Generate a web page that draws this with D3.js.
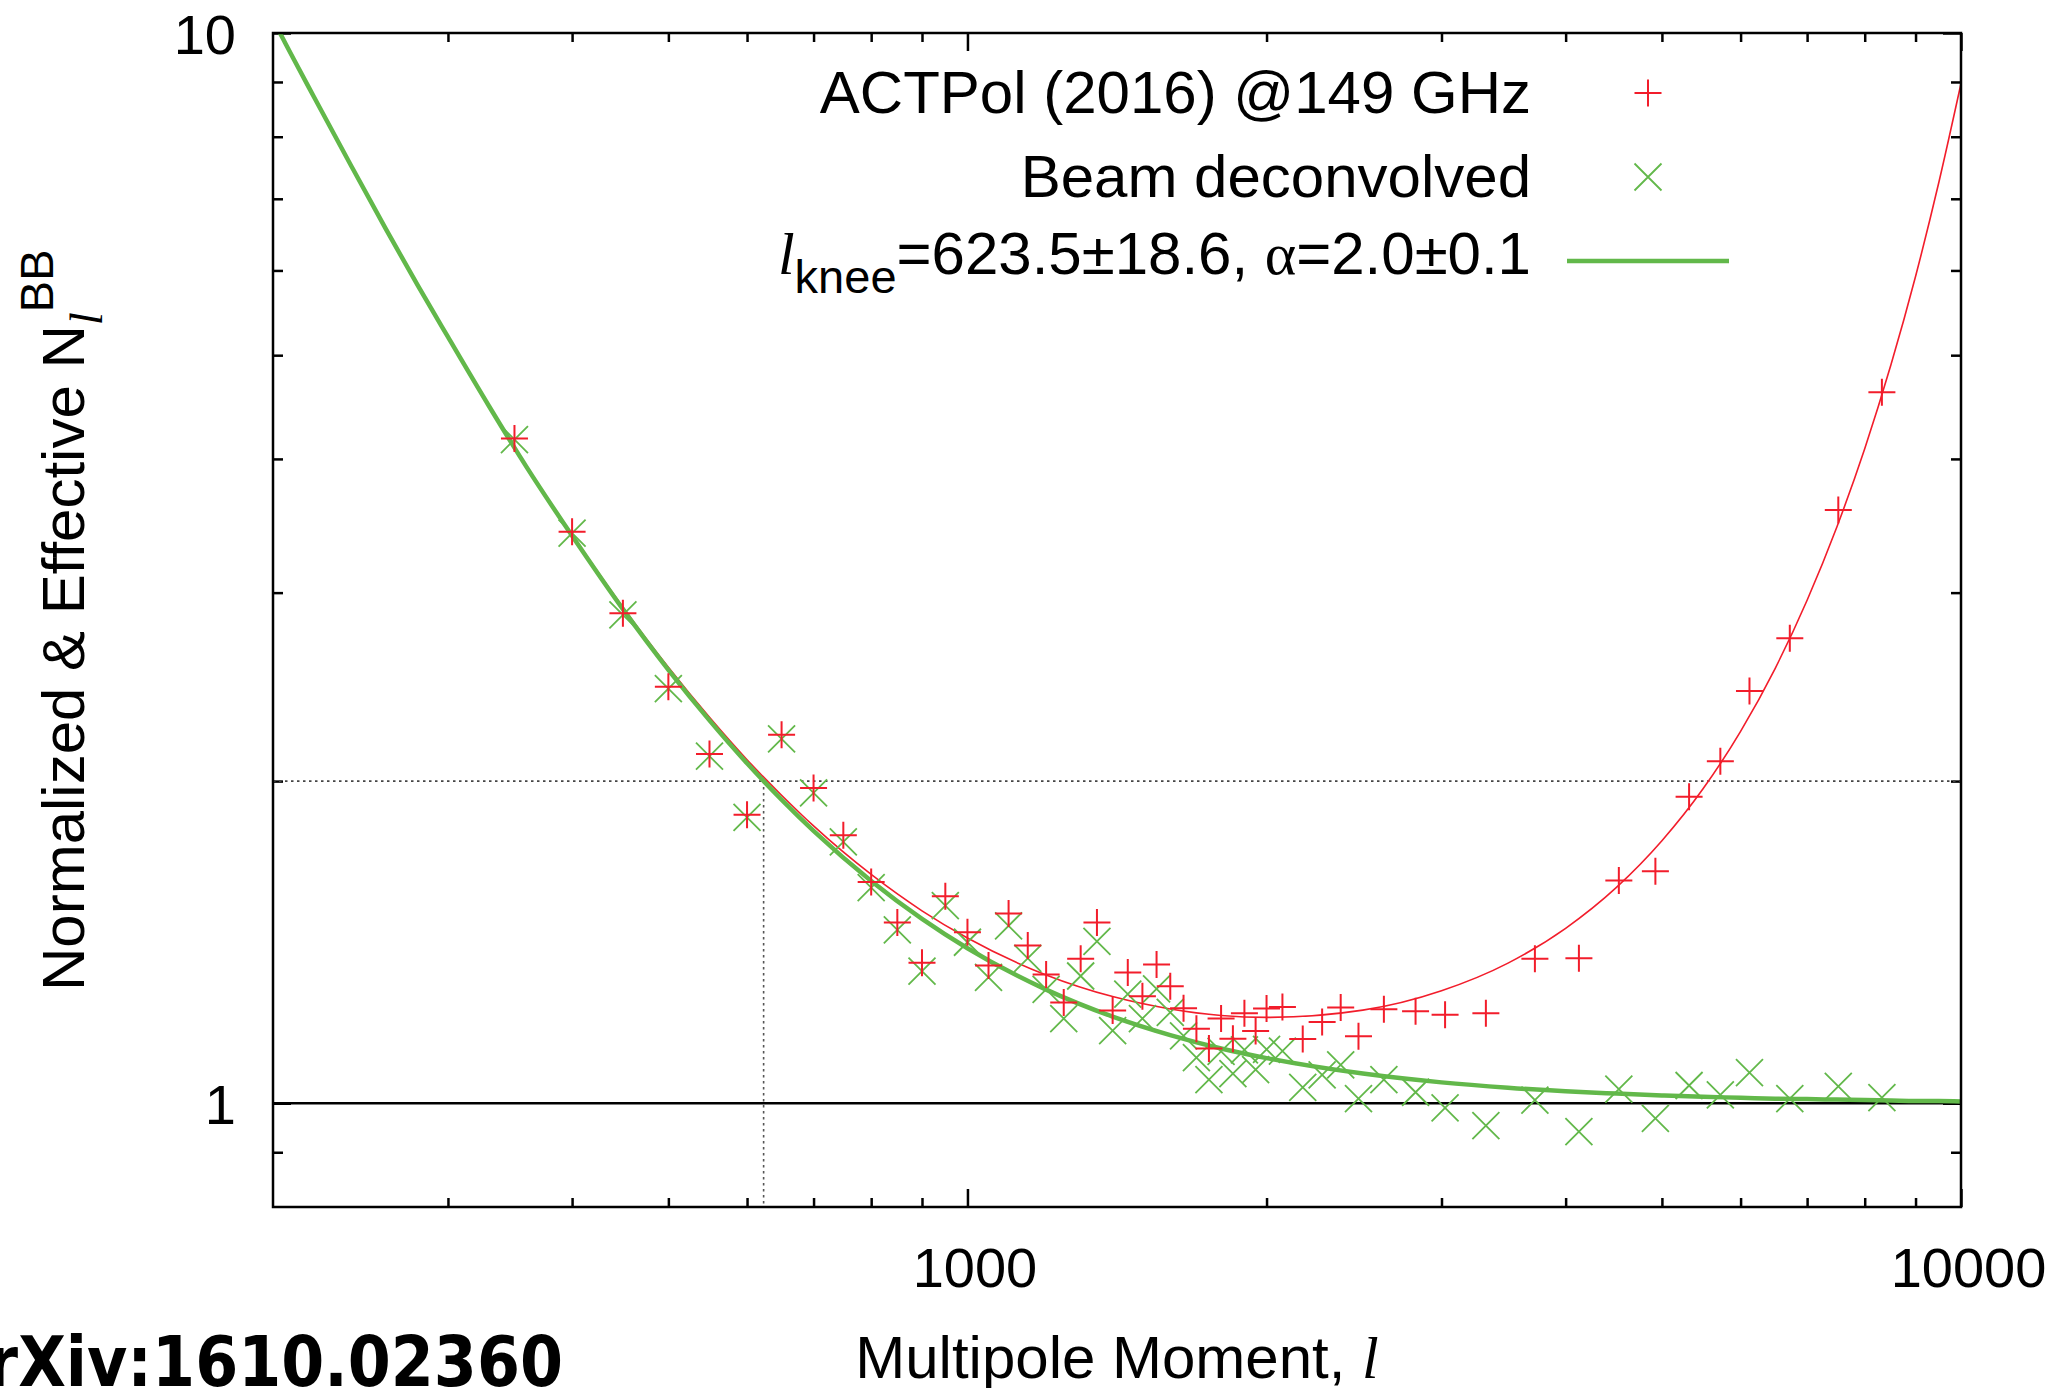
<!DOCTYPE html>
<html>
<head>
<meta charset="utf-8">
<script src="https://cdn.jsdelivr.net/npm/d3@7"></script>
<style>
  body { margin: 0; background: #fff; }
</style>
</head>
<body>
<svg id="chart"></svg>
<script>
// binned multipoles and noise levels
const multipole = [
  350, 400, 450, 500, 550, 600, 650, 700, 750, 800, 850, 900, 950, 1000,
  1050, 1100, 1150, 1200, 1250, 1300, 1350, 1400, 1450, 1500, 1550, 1600,
  1650, 1700, 1750, 1800, 1850, 1900, 1950, 2000, 2075, 2175, 2275, 2375,
  2475, 2625, 2825, 3025, 3325, 3725, 4125, 4525, 4925, 5325, 5725, 6125,
  6725, 7525, 8325
];

const actpolNoise = [
  4.18, 3.42, 2.87, 2.45, 2.12, 1.86, 2.21, 1.97, 1.78, 1.61, 1.475, 1.353,
  1.561, 1.445, 1.345, 1.504, 1.404, 1.319, 1.242, 1.365, 1.475, 1.221,
  1.325, 1.259, 1.348, 1.286, 1.227, 1.174, 1.125, 1.2, 1.149, 1.214, 1.168,
  1.226, 1.23, 1.148, 1.191, 1.229, 1.155, 1.224, 1.219, 1.21, 1.214, 1.365,
  1.366, 1.615, 1.647, 1.934, 2.087, 2.428, 2.719, 3.583, 4.618
];

const deconvolvedNoise = [
  4.17, 3.41, 2.86, 2.44, 2.11, 1.85, 2.19, 1.95, 1.755, 1.59, 1.452, 1.329,
  1.53, 1.414, 1.311, 1.465, 1.366, 1.278, 1.2, 1.315, 1.417, 1.169, 1.265,
  1.2, 1.279, 1.216, 1.156, 1.103, 1.052, 1.118, 1.066, 1.122, 1.075, 1.123,
  1.119, 1.035, 1.063, 1.086, 1.01, 1.052, 1.024, 0.99, 0.953, 1.007, 0.941,
  1.031, 0.968, 1.039, 1.018, 1.068, 1.01, 1.037, 1.012
];

// fitted curves, sampled off the figure
const fitMultipole = [
  200, 205, 210, 220, 240, 260, 280, 300, 330, 360, 400, 450, 500, 550, 600,
  650, 700, 800, 900, 1000, 1200, 1400, 1600, 1800, 2000, 2500, 3000, 3500,
  4000, 4500, 5000, 5500, 6000, 6500, 7000, 7500, 8000, 8500, 9000, 9500, 10000
];

const fitNormalized = [
  10.3, 9.86, 9.45, 8.72, 7.51, 6.56, 5.81, 5.21, 4.49, 3.94, 3.4, 2.908,
  2.555, 2.294, 2.094, 1.94, 1.816, 1.636, 1.513, 1.427, 1.318, 1.258, 1.225,
  1.208, 1.203, 1.222, 1.274, 1.352, 1.457, 1.591, 1.759, 1.967, 2.226, 2.548,
  2.951, 3.455, 4.089, 4.895, 5.923, 7.253, 8.97
];

const fitEffective = [
  10.29, 9.85, 9.44, 8.71, 7.5, 6.55, 5.8, 5.2, 4.48, 3.93, 3.39, 2.895,
  2.541, 2.279, 2.078, 1.922, 1.797, 1.6135, 1.487, 1.396, 1.277, 1.205,
  1.158, 1.125, 1.102, 1.066, 1.046, 1.034, 1.026, 1.021, 1.017, 1.014,
  1.012, 1.01, 1.009, 1.008, 1.007, 1.006, 1.005, 1.005, 1.004
];

const kneeMultipole = 623.5;
const kneeLevel = 2;
const unitLevel = 1;

const xMajorTicks = [1000, 10000];
const xMinorTicks = [300, 400, 500, 600, 700, 800, 900, 2000, 3000, 4000, 5000, 6000, 7000, 8000, 9000];
const yMajorTicks = [1, 10];
const yMinorTicks = [0.9, 2, 3, 4, 5, 6, 7, 8, 9];

const legendLabels = ["ACTPol (2016) @149 GHz", "Beam deconvolved"];

const red = "#f21d2b";
const green = "#62b84a";
const sans = '"Liberation Sans", Arial, Helvetica, sans-serif';
const serif = '"Liberation Serif", "Times New Roman", serif';

const width = 2056;
const height = 1388;
const margin = { top: 33, right: 95, bottom: 181, left: 273 };
const plotW = width - margin.left - margin.right;
const plotH = height - margin.top - margin.bottom;

const svg = d3
  .select("#chart")
  .attr("width", width)
  .attr("height", height)
  .attr("font-family", sans);

svg.append("rect").attr("width", width).attr("height", height).attr("fill", "#fff");

const g = svg.append("g").attr("transform", `translate(${margin.left},${margin.top})`);

const x = d3.scaleLog().domain([200, 10000]).range([0, plotW]);
const y = d3.scaleLog().domain([0.8, 10]).range([plotH, 0]);

g.append("clipPath")
  .attr("id", "plot-clip")
  .append("rect")
  .attr("width", plotW)
  .attr("height", plotH);

// ticks on all four sides, pointing inward
function addTicks(axis, transform) {
  const a = g.append("g").attr("transform", transform).call(axis);
  a.select(".domain").remove();
  a.selectAll("line").attr("stroke", "#000").attr("stroke-width", 2.5);
  a.attr("font-size", 56).attr("font-family", sans);
  a.selectAll("text").attr("fill", "#000");
  return a;
}

addTicks(d3.axisBottom(x).tickValues(xMinorTicks).tickSize(-9).tickFormat(""), `translate(0,${plotH})`);
addTicks(d3.axisTop(x).tickValues(xMinorTicks).tickSize(-9).tickFormat(""), "translate(0,0)");
addTicks(d3.axisTop(x).tickValues(xMajorTicks).tickSize(-18).tickFormat(""), "translate(0,0)");
addTicks(
  d3.axisBottom(x).tickValues(xMajorTicks).tickSize(-18).tickPadding(40).tickFormat(d3.format("d")),
  `translate(0,${plotH})`
).selectAll("text").attr("dx", 7);

addTicks(d3.axisLeft(y).tickValues(yMinorTicks).tickSize(-10).tickFormat(""), "translate(0,0)");
addTicks(d3.axisRight(y).tickValues(yMinorTicks).tickSize(-10).tickFormat(""), `translate(${plotW},0)`);
addTicks(d3.axisRight(y).tickValues(yMajorTicks).tickSize(-18).tickFormat(""), `translate(${plotW},0)`);
addTicks(
  d3.axisLeft(y).tickValues(yMajorTicks).tickSize(-18).tickPadding(37).tickFormat(d3.format("d")),
  "translate(0,0)"
).selectAll("text").attr("dy", "0.36em");

// guide lines at the knee
g.append("line")
  .attr("x1", 0)
  .attr("x2", plotW)
  .attr("y1", y(kneeLevel))
  .attr("y2", y(kneeLevel))
  .attr("stroke", "#444")
  .attr("stroke-width", 1.6)
  .attr("stroke-dasharray", "2.5,3.5");

g.append("line")
  .attr("x1", x(kneeMultipole))
  .attr("x2", x(kneeMultipole))
  .attr("y1", y(kneeLevel))
  .attr("y2", plotH)
  .attr("stroke", "#555")
  .attr("stroke-width", 1.6)
  .attr("stroke-dasharray", "2.5,3.5");

g.append("line")
  .attr("x1", 0)
  .attr("x2", plotW)
  .attr("y1", y(unitLevel))
  .attr("y2", y(unitLevel))
  .attr("stroke", "#000")
  .attr("stroke-width", 2.5);

const h = 13.5;
const plusPath = `M${-h},0H${h}M0,${-h}V${h}`;
const crossPath = `M${-h},${-h}L${h},${h}M${-h},${h}L${h},${-h}`;

const line = d3
  .line()
  .x((d) => x(d[0]))
  .y((d) => y(d[1]))
  .curve(d3.curveMonotoneX);

const curves = g.append("g").attr("clip-path", "url(#plot-clip)");

curves
  .append("path")
  .attr("d", line(fitMultipole.map((l, i) => [l, fitNormalized[i]])))
  .attr("fill", "none")
  .attr("stroke", red)
  .attr("stroke-width", 1.6);

g.selectAll(".cross")
  .data(multipole)
  .enter()
  .append("path")
  .attr("class", "cross")
  .attr("d", crossPath)
  .attr("transform", (d, i) => `translate(${x(d)},${y(deconvolvedNoise[i])})`)
  .attr("stroke", green)
  .attr("stroke-width", 1.8)
  .attr("fill", "none");

curves
  .append("path")
  .attr("d", line(fitMultipole.map((l, i) => [l, fitEffective[i]])))
  .attr("fill", "none")
  .attr("stroke", green)
  .attr("stroke-width", 4.5);

g.selectAll(".plus")
  .data(multipole)
  .enter()
  .append("path")
  .attr("class", "plus")
  .attr("d", plusPath)
  .attr("transform", (d, i) => `translate(${x(d)},${y(actpolNoise[i])})`)
  .attr("stroke", red)
  .attr("stroke-width", 2)
  .attr("fill", "none");

g.append("rect")
  .attr("width", plotW)
  .attr("height", plotH)
  .attr("fill", "none")
  .attr("stroke", "#000")
  .attr("stroke-width", 2.5);

// legend
const keyTextX = 1531;
const keySampleX = 1648;

svg
  .append("text")
  .attr("x", keyTextX)
  .attr("y", 113)
  .attr("text-anchor", "end")
  .attr("font-size", 60)
  .text(legendLabels[0]);

svg
  .append("path")
  .attr("d", plusPath)
  .attr("transform", `translate(${keySampleX},93)`)
  .attr("stroke", red)
  .attr("stroke-width", 2)
  .attr("fill", "none");

svg
  .append("text")
  .attr("x", keyTextX)
  .attr("y", 197)
  .attr("text-anchor", "end")
  .attr("font-size", 60)
  .text(legendLabels[1]);

svg
  .append("path")
  .attr("d", crossPath)
  .attr("transform", `translate(${keySampleX},177)`)
  .attr("stroke", green)
  .attr("stroke-width", 1.8)
  .attr("fill", "none");

const fitLabel = svg
  .append("text")
  .attr("x", keyTextX)
  .attr("y", 274)
  .attr("text-anchor", "end")
  .attr("font-size", 60);
fitLabel.append("tspan").attr("font-family", serif).attr("font-style", "italic").text("l");
fitLabel.append("tspan").attr("font-size", 47).attr("dy", 19).text("knee");
fitLabel.append("tspan").attr("dy", -19).text("=623.5±18.6, ");
fitLabel.append("tspan").attr("font-family", serif).text("α");
fitLabel.append("tspan").text("=2.0±0.1");

svg
  .append("line")
  .attr("x1", 1567)
  .attr("x2", 1729)
  .attr("y1", 261)
  .attr("y2", 261)
  .attr("stroke", green)
  .attr("stroke-width", 4.5);

// axis titles
const yLabel = svg
  .append("text")
  .attr("transform", "translate(84,991) rotate(-90)")
  .attr("font-size", 60);
yLabel.append("tspan").text("Normalized & Effective N");
yLabel
  .append("tspan")
  .attr("font-family", serif)
  .attr("font-style", "italic")
  .attr("font-size", 47)
  .attr("dy", 18)
  .text("l");
yLabel.append("tspan").attr("font-size", 47).attr("dy", -49).text("BB");

const xLabel = svg
  .append("text")
  .attr("x", margin.left + plotW / 2)
  .attr("y", 1378)
  .attr("text-anchor", "middle")
  .attr("font-size", 60);
xLabel.append("tspan").text("Multipole Moment, ");
xLabel.append("tspan").attr("font-family", serif).attr("font-style", "italic").text("l");

// stamp in the lower-left corner, partly off the page as in the figure
svg
  .append("text")
  .attr("transform", "translate(563,1386) scale(0.884,1)")
  .attr("text-anchor", "end")
  .attr("font-family", '"DejaVu Sans", sans-serif')
  .attr("font-weight", "bold")
  .attr("font-size", 70)
  .text("arXiv:1610.02360");
</script>
</body>
</html>
